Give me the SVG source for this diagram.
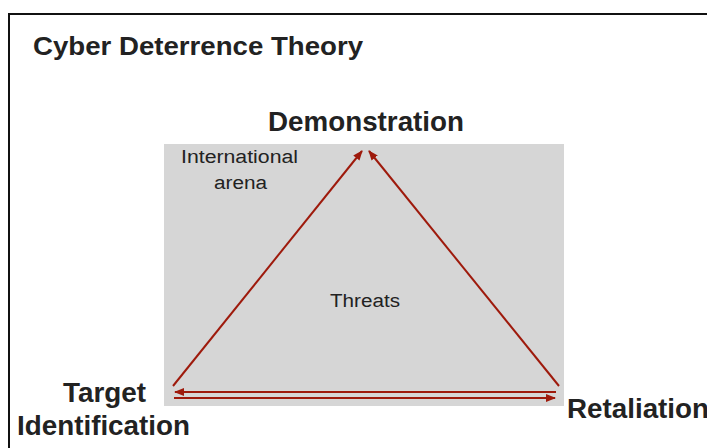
<svg xmlns="http://www.w3.org/2000/svg" width="707" height="448" viewBox="0 0 707 448">
<defs>
<style>
.t{font-family:"Liberation Sans",Arial,sans-serif;fill:#222}
.b{font-weight:bold}
.c{stroke:#9e1a0c;stroke-width:2;fill:none}
</style>
<marker id="ah" viewBox="0 0 10 10" refX="9" refY="5" markerWidth="5" markerHeight="5" orient="auto" markerUnits="strokeWidth">
<path d="M0,1 L10,5 L0,9 Z" fill="#9e1a0c"/>
</marker>
</defs>
<rect width="707" height="448" fill="#fff"/>
<rect x="9" y="14" width="710" height="450" fill="none" stroke="#111" stroke-width="2"/>
<text class="t b" x="33" y="55" font-size="25" textLength="330" lengthAdjust="spacingAndGlyphs">Cyber Deterrence Theory</text>
<g id="arena">
<rect x="164" y="144" width="400" height="262" fill="#d6d6d6"/>
<text class="t" x="181" y="163" font-size="18" textLength="117" lengthAdjust="spacingAndGlyphs">International</text>
<text class="t" x="214" y="189" font-size="18" textLength="53" lengthAdjust="spacingAndGlyphs">arena</text>
<text class="t" x="330" y="307" font-size="18" textLength="70" lengthAdjust="spacingAndGlyphs">Threats</text>
</g>
<g id="demonstration">
<text class="t b" x="268" y="131" font-size="27" textLength="196" lengthAdjust="spacingAndGlyphs">Demonstration</text>
</g>
<g id="target">
<text class="t b" x="63" y="402" font-size="27" textLength="83" lengthAdjust="spacingAndGlyphs">Target</text>
<text class="t b" x="17" y="435" font-size="27" textLength="173" lengthAdjust="spacingAndGlyphs">Identification</text>
</g>
<g id="retaliation">
<text class="t b" x="567" y="418" font-size="27" textLength="142" lengthAdjust="spacingAndGlyphs">Retaliation</text>
</g>
<g id="connectors">
<line class="c" x1="173" y1="386" x2="362" y2="151" marker-end="url(#ah)"/>
<line class="c" x1="559" y1="386" x2="369" y2="151" marker-end="url(#ah)"/>
<line class="c" x1="556" y1="392" x2="175" y2="392" marker-end="url(#ah)"/>
<line class="c" x1="174" y1="398" x2="555" y2="398" marker-end="url(#ah)"/>
</g>
</svg>
